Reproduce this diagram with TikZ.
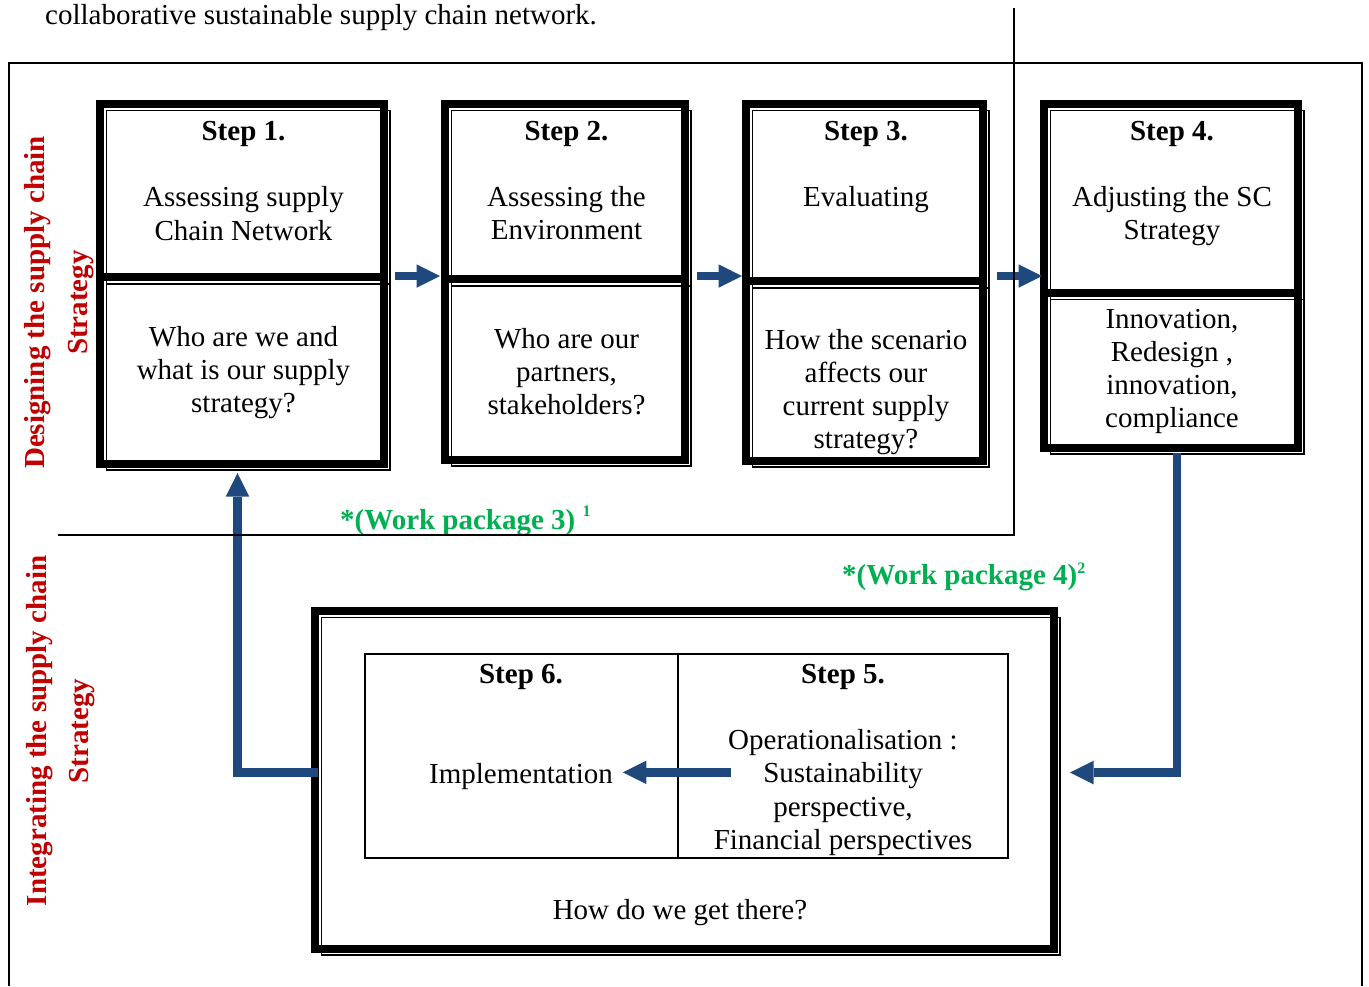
\documentclass[tikz,border=0pt]{standalone}
\usepackage{fontspec}
\setmainfont{Liberation Serif}
\usetikzlibrary{arrows.meta,calc}
\definecolor{flowblue}{RGB}{31,73,125}
\definecolor{sidered}{RGB}{192,0,0}
\definecolor{wpgreen}{RGB}{0,176,80}

% thick-thin double border around a region node
\newcommand{\stepframe}[1]{%
  \draw[line width=8pt] ($(#1.north west)+(4,4)$) rectangle ($(#1.south east)+(-7,-7)$);
  \draw[line width=1.5pt] ($(#1.north west)+(10.5,10.5)$) rectangle ($(#1.south east)+(-1,-1)$);}
% thick-thin horizontal divider inside a region node, #2 = offset from its top
\newcommand{\stepdivider}[2]{%
  \draw[line width=8pt] ($(#1.north west)+(0,#2)$) -- ($(#1.north east)+(-3,#2)$);
  \draw[line width=1.5pt] ($(#1.north west)+(10.5,#2+7)$) -- ($(#1.north east)+(-1,#2+7)$);}

\begin{document}
\begin{tikzpicture}[x=1pt,y=-1pt,line join=miter,
  region/.style={anchor=north west,inner sep=0,outer sep=0,draw=none},
  txt/.style={anchor=north,inner sep=0,outer sep=0,align=center,font=\fontsize{29}{33.3}\selectfont},
  side/.style={rotate=90,anchor=base,inner sep=0,text=sidered,font=\bfseries\fontsize{29}{33}\selectfont},
  wp/.style={anchor=base west,inner sep=0,text=wpgreen,font=\bfseries\fontsize{29}{33}\selectfont},
  cell/.style={anchor=north west,inner sep=0,outer sep=0,draw,line width=1.5pt},
  flow/.style={draw=flowblue,line width=8.3pt,-{Triangle[width=23.5pt,length=23.5pt,line width=0pt]}}]
\useasboundingbox (0,0) rectangle (1369,986);

% caption fragment above the frame
\node[anchor=base west,inner sep=0,font=\fontsize{29}{33}\selectfont] (cap) at (45,24)
  {collaborative sustainable supply chain network.};

% phase labels
\node[side] (dsg1) at (45,302.5) {Designing the supply chain};
\node[side] (dsg2) at (87,302.5) {Strategy};
\node[side] (int1) at (46.5,731) {Integrating the supply chain};
\node[side] (int2) at (88,731) {Strategy};

% step regions
\node[region,minimum width=295pt,minimum height=371pt] (s1) at (96,100) {};
\node[region,minimum width=251pt,minimum height=367pt] (s2) at (441,100) {};
\node[region,minimum width=248pt,minimum height=368pt] (s3) at (742,100) {};
\node[region,minimum width=265pt,minimum height=355pt] (s4) at (1040,100) {};
\node[region,minimum width=750pt,minimum height=349pt] (bb) at (311,607) {};

\stepframe{s1}\stepdivider{s1}{177}
\stepframe{s2}\stepdivider{s2}{179}
\stepframe{s3}\stepdivider{s3}{181}
\stepframe{s4}\stepdivider{s4}{192.5}
\stepframe{bb}

% step texts
\node[txt] (t1) at (243.5,117) {\strut\textbf{Step 1.}\\\strut\\\strut Assessing supply\\\strut Chain Network};
\node[txt] (q1) at (243.5,322.7) {\strut Who are we and\\\strut what is our supply\\\strut strategy?};
\node[txt] (t2) at (566.5,116.7) {\strut\textbf{Step 2.}\\\strut\\\strut Assessing the\\\strut Environment};
\node[txt] (q2) at (566.5,324.7) {\strut Who are our\\\strut partners,\\\strut stakeholders?};
\node[txt] (t3) at (866,116.7) {\strut\textbf{Step 3.}\\\strut\\\strut Evaluating};
\node[txt] (q3) at (866,325.7) {\strut How the scenario\\\strut affects our\\\strut current supply\\\strut strategy?};
\node[txt] (t4) at (1172,116.7) {\strut\textbf{Step 4.}\\\strut\\\strut Adjusting the SC\\\strut Strategy};
\node[txt] (q4) at (1172,304.7) {\strut Innovation,\\\strut Redesign ,\\\strut innovation,\\\strut compliance};

% inner table of the integration box
\node[cell,minimum width=313pt,minimum height=204pt] (c6) at (365,654) {};
\node[cell,minimum width=330pt,minimum height=204pt] (c5) at (678,654) {};
\node[txt] (t6) at (521,659.7) {\strut\textbf{Step 6.}};
\node[txt] (impl) at (521,759.7) {\strut Implementation};
\node[txt] (t5) at (843,659.7) {\strut\textbf{Step 5.}\\\strut\\\strut Operationalisation :\\\strut Sustainability\\\strut perspective,\\\strut Financial perspectives};
\node[txt] (how) at (680,895.7) {\strut How do we get there?};

% work package labels
\node[wp] (wp3) at (340,529) {*(Work package 3) \raisebox{13pt}{\fontsize{16}{16}\selectfont 1}};
\node[wp] (wp4) at (842,584) {*(Work package 4)\raisebox{11pt}{\fontsize{16}{16}\selectfont 2}};

% flow connectors
\draw[flow] ($(s1.north east)+(4,176)$) -- ($(s2.north west)+(-1,176)$);
\draw[flow] ($(s2.north east)+(5,176)$) -- ($(s3.north west)+(0,176)$);
\draw[flow] ($(s3.north east)+(7,176)$) -- ($(s4.north west)+(2,176)$);
\draw[flow] ($(s4.south)+(4.5,-2)$) |- ($(bb.east)+(9,-9)$);
\draw[flow] ($(impl.east)+(118,-4)$) -- ($(impl.east)+(10,-4)$);
\draw[flow] ($(bb.west)+(7,-9)$) -| ($(s1.south)+(-6,2)$);

% surrounding frame and phase separator
\draw[line width=2pt] (9,986) -- (9,63) -- (1362,63) -- (1362,986);
\draw[line width=1.5pt] (1014,8) -- (1014,535) -- (58,535);
\end{tikzpicture}
\end{document}
